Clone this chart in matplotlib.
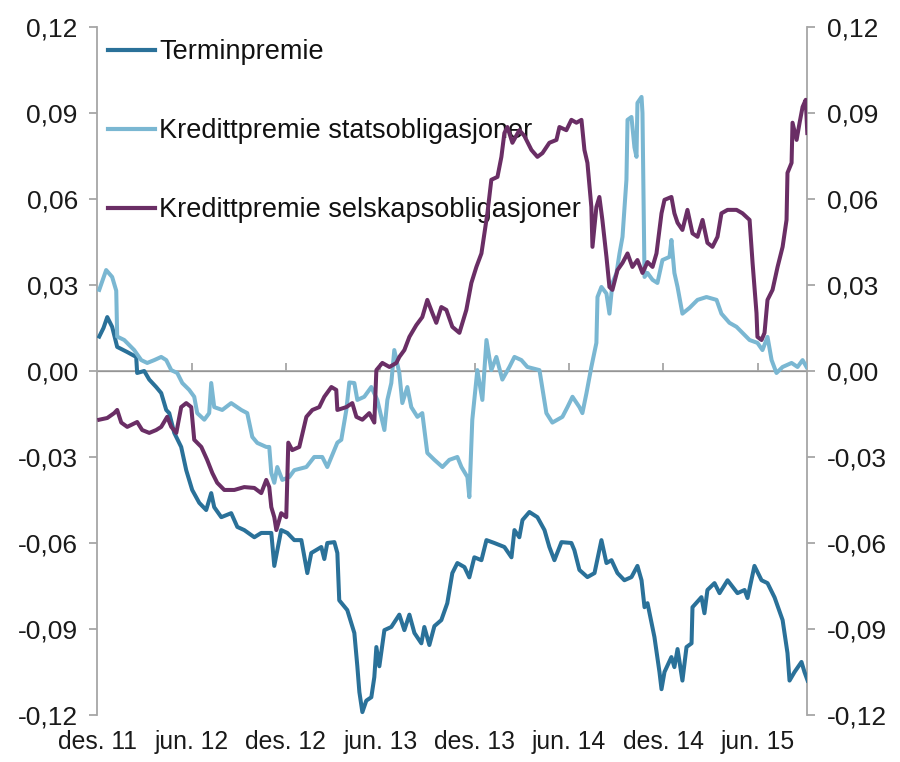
import matplotlib
matplotlib.use("Agg")
import matplotlib.pyplot as plt
from matplotlib.ticker import FixedLocator, FuncFormatter

plt.rcParams['font.family'] = ['Liberation Sans', 'DejaVu Sans']

# x = months since start of December 2011
x_ticks = [0, 6, 12, 18, 24, 30, 36, 42]
x_labels = ["des. 11", "jun. 12", "des. 12", "jun. 13", "des. 13", "jun. 14", "des. 14", "jun. 15"]
y_ticks = [-0.12, -0.09, -0.06, -0.03, 0.0, 0.03, 0.06, 0.09, 0.12]

term_x = [0.13, 0.40, 0.64, 0.95, 1.27, 1.91, 2.48, 2.54, 2.99, 3.31, 3.75, 4.07, 4.39, 4.58, 4.90,
          5.34, 5.66, 6.04, 6.49, 6.93, 7.25, 7.44, 7.89, 8.52, 8.91, 9.35, 9.99, 10.43, 11.07, 11.26,
          11.70, 12.09, 12.53, 12.98, 13.36, 13.61, 14.25, 14.44, 14.63, 15.08, 15.27, 15.39, 15.90,
          16.35, 16.54, 16.67, 16.86, 17.11, 17.43, 17.62, 17.75, 17.94, 18.26, 18.70, 19.21, 19.53,
          19.85, 20.17, 20.61, 20.80, 21.12, 21.44, 21.88, 22.26, 22.58, 22.90, 23.35, 23.66, 23.98,
          24.43, 24.75, 25.25, 25.89, 26.34, 26.53, 26.84, 27.04, 27.48, 27.99, 28.44, 28.75, 29.07,
          29.52, 30.15, 30.34, 30.66, 31.17, 31.62, 32.06, 32.38, 32.70, 33.08, 33.52, 33.97, 34.35,
          34.61, 34.80, 34.99, 35.43, 35.75, 35.88, 36.07, 36.51, 36.70, 36.90, 37.21, 37.47, 37.79,
          37.85, 38.42, 38.61, 38.80, 39.25, 39.57, 40.08, 40.71, 41.16, 41.35, 41.79, 42.24, 42.62,
          43.07, 43.58, 43.89, 44.02, 44.34, 44.78, 44.97, 45.17]
term_y = [0.0120, 0.0150, 0.0188, 0.0154, 0.0084, 0.0066, 0.0049, -0.0007, 0.0000, -0.0030, -0.0056,
          -0.0077, -0.0136, -0.0147, -0.0216, -0.0265, -0.0346, -0.0415, -0.0460, -0.0485, -0.0426,
          -0.0475, -0.0510, -0.0496, -0.0544, -0.0555, -0.0580, -0.0565, -0.0565, -0.0680, -0.0555,
          -0.0565, -0.0590, -0.0590, -0.0705, -0.0635, -0.0614, -0.0656, -0.0600, -0.0597, -0.0635,
          -0.0800, -0.0834, -0.0914, -0.1030, -0.1120, -0.1190, -0.1150, -0.1138, -0.1068, -0.0963,
          -0.1030, -0.0904, -0.0893, -0.0850, -0.0904, -0.0850, -0.0914, -0.0950, -0.0893, -0.0956,
          -0.0890, -0.0869, -0.0810, -0.0705, -0.0670, -0.0684, -0.0720, -0.0650, -0.0660, -0.0590,
          -0.0600, -0.0614, -0.0650, -0.0555, -0.0580, -0.0520, -0.0492, -0.0510, -0.0555, -0.0614,
          -0.0660, -0.0597, -0.0600, -0.0625, -0.0694, -0.0719, -0.0705, -0.0590, -0.0670, -0.0660,
          -0.0705, -0.0730, -0.0719, -0.0680, -0.0730, -0.0824, -0.0810, -0.0928, -0.1050, -0.1110,
          -0.1050, -0.0998, -0.1033, -0.0970, -0.1080, -0.0963, -0.0950, -0.0824, -0.0789, -0.0845,
          -0.0764, -0.0740, -0.0775, -0.0730, -0.0775, -0.0764, -0.0792, -0.0680, -0.0730, -0.0740,
          -0.0790, -0.0869, -0.0984, -0.1080, -0.1050, -0.1015, -0.1050, -0.1080]

stat_x = [0.13, 0.57, 0.95, 1.21, 1.27, 1.72, 2.35, 2.80, 3.18, 3.63, 4.07, 4.39, 4.71, 5.09, 5.41,
          5.85, 6.17, 6.36, 6.81, 7.12, 7.25, 7.44, 7.95, 8.52, 9.16, 9.54, 9.86, 10.18, 10.75, 10.94,
          11.07, 11.26, 11.45, 11.77, 12.21, 12.53, 13.30, 13.80, 14.31, 14.63, 15.27, 15.52, 15.84,
          16.03, 16.35, 16.54, 16.98, 17.43, 17.81, 18.26, 18.45, 18.70, 18.89, 19.21, 19.40, 19.72,
          19.97, 20.36, 20.67, 20.99, 21.44, 21.95, 22.39, 22.90, 23.16, 23.54, 23.66, 23.85, 24.17,
          24.49, 24.75, 25.06, 25.38, 25.76, 26.21, 26.53, 26.97, 27.35, 28.12, 28.56, 28.94, 29.58,
          29.90, 30.22, 30.66, 30.85, 31.11, 31.42, 31.74, 31.81, 32.06, 32.38, 32.57, 32.76, 33.02,
          33.21, 33.40, 33.65, 33.72, 33.97, 34.16, 34.29, 34.35, 34.61, 34.67, 34.80, 34.99, 35.31,
          35.62, 35.94, 36.39, 36.51, 36.70, 36.90, 37.21, 37.66, 38.17, 38.74, 39.38, 39.69, 40.20,
          40.65, 41.03, 41.48, 41.98, 42.30, 42.62, 42.88, 43.19, 43.58, 44.15, 44.53, 44.85, 45.10]
stat_y = [0.0283, 0.0352, 0.0328, 0.0280, 0.0120, 0.0108, 0.0073, 0.0038, 0.0028, 0.0038, 0.0049,
          0.0038, 0.0003, -0.0007, -0.0042, -0.0066, -0.0090, -0.0147, -0.0170, -0.0147, -0.0042,
          -0.0126, -0.0136, -0.0112, -0.0136, -0.0147, -0.0230, -0.0251, -0.0265, -0.0265, -0.0356,
          -0.0390, -0.0335, -0.0380, -0.0370, -0.0346, -0.0335, -0.0300, -0.0300, -0.0335, -0.0250,
          -0.0240, -0.0136, -0.0040, -0.0042, -0.0101, -0.0090, -0.0056, -0.0101, -0.0206, -0.0101,
          -0.0042, 0.0073, -0.0007, -0.0112, -0.0056, -0.0126, -0.0160, -0.0147, -0.0286, -0.0310,
          -0.0335, -0.0310, -0.0300, -0.0335, -0.0370, -0.0440, -0.0170, 0.0003, -0.0101, 0.0108,
          0.0003, 0.0049, -0.0030, 0.0014, 0.0049, 0.0038, 0.0014, 0.0003, -0.0147, -0.0180, -0.0160,
          -0.0126, -0.0090, -0.0126, -0.0147, -0.0077, 0.0014, 0.0098, 0.0258, 0.0293, 0.0270, 0.0200,
          0.0307, 0.0342, 0.0410, 0.0468, 0.0667, 0.0876, 0.0886, 0.0780, 0.0747, 0.0935, 0.0956,
          0.0900, 0.0328, 0.0342, 0.0318, 0.0307, 0.0387, 0.0398, 0.0457, 0.0342, 0.0293, 0.0200,
          0.0220, 0.0248, 0.0258, 0.0248, 0.0200, 0.0168, 0.0154, 0.0133, 0.0108, 0.0098, 0.0073,
          0.0119, 0.0038, -0.0007, 0.0014, 0.0028, 0.0014, 0.0038, 0.0014]

sels_x = [0.13, 0.64, 1.08, 1.27, 1.53, 1.91, 2.54, 2.86, 3.31, 3.75, 4.07, 4.45, 4.71, 5.03, 5.34,
          5.66, 5.98, 6.17, 6.62, 6.99, 7.32, 7.63, 8.08, 8.72, 9.35, 9.99, 10.43, 10.75, 10.94, 11.07,
          11.26, 11.39, 11.70, 12.02, 12.15, 12.40, 12.85, 13.30, 13.68, 14.12, 14.44, 14.89, 15.20,
          15.27, 15.84, 16.22, 16.48, 16.86, 17.30, 17.62, 17.75, 18.13, 18.58, 19.02, 19.21, 19.53,
          19.85, 20.29, 20.67, 20.99, 21.31, 21.56, 21.88, 22.20, 22.58, 23.03, 23.47, 23.79, 24.11,
          24.43, 24.62, 24.81, 25.06, 25.45, 25.70, 25.89, 26.08, 26.40, 26.84, 27.16, 27.61, 27.99,
          28.31, 28.75, 29.20, 29.39, 29.83, 30.15, 30.47, 30.79, 30.98, 31.17, 31.42, 31.49, 31.74,
          31.93, 32.12, 32.38, 32.57, 32.76, 33.08, 33.40, 33.72, 34.03, 34.35, 34.67, 34.99, 35.31,
          35.56, 35.88, 36.07, 36.51, 36.70, 36.90, 37.21, 37.53, 37.85, 38.17, 38.49, 38.80, 39.12,
          39.44, 39.69, 40.08, 40.65, 41.03, 41.48, 41.67, 41.92, 41.98, 42.24, 42.43, 42.62, 42.94,
          43.26, 43.58, 43.83, 43.89, 44.15, 44.21, 44.47, 44.66, 44.85, 45.05, 45.15]
sels_y = [-0.0170, -0.0164, -0.0147, -0.0136, -0.0180, -0.0195, -0.0178, -0.0206, -0.0216, -0.0206,
          -0.0195, -0.0160, -0.0195, -0.0216, -0.0126, -0.0112, -0.0126, -0.0240, -0.0265, -0.0310,
          -0.0356, -0.0390, -0.0415, -0.0415, -0.0405, -0.0408, -0.0426, -0.0380, -0.0405, -0.0475,
          -0.0510, -0.0555, -0.0496, -0.0510, -0.0250, -0.0276, -0.0265, -0.0160, -0.0136, -0.0126,
          -0.0090, -0.0056, -0.0066, -0.0136, -0.0126, -0.0112, -0.0160, -0.0170, -0.0147, -0.0180,
          0.0003, 0.0028, 0.0014, 0.0028, 0.0049, 0.0073, 0.0119, 0.0160, 0.0188, 0.0248, 0.0202,
          0.0168, 0.0223, 0.0213, 0.0154, 0.0133, 0.0213, 0.0307, 0.0363, 0.0410, 0.0480, 0.0550,
          0.0667, 0.0677, 0.0747, 0.0830, 0.0851, 0.0796, 0.0840, 0.0820, 0.0771, 0.0747, 0.0760,
          0.0796, 0.0806, 0.0851, 0.0840, 0.0876, 0.0866, 0.0876, 0.0771, 0.0726, 0.0572, 0.0433,
          0.0572, 0.0607, 0.0527, 0.0398, 0.0293, 0.0283, 0.0352, 0.0377, 0.0410, 0.0363, 0.0387,
          0.0342, 0.0380, 0.0363, 0.0410, 0.0550, 0.0597, 0.0607, 0.0550, 0.0517, 0.0492, 0.0562,
          0.0480, 0.0468, 0.0527, 0.0447, 0.0433, 0.0468, 0.0550, 0.0562, 0.0562, 0.0550, 0.0527,
          0.0377, 0.0202, 0.0119, 0.0108, 0.0133, 0.0248, 0.0283, 0.0363, 0.0433, 0.0527, 0.0691,
          0.0726, 0.0866, 0.0806, 0.0866, 0.0921, 0.0946, 0.0830]

names = ["Terminpremie", "Kredittpremie statsobligasjoner", "Kredittpremie selskapsobligasjoner"]
colors = ["#2a7199", "#7ab7d2", "#6a2e65"]

fig = plt.figure(figsize=(9.0, 7.62), dpi=100)
ax = fig.add_axes([0.108, 0.0617, 0.789, 0.9029])

gray = "#a6a6a6"
ax.axhline(0, color=gray, lw=1.3, zorder=1)

lw = 2.9
ax.plot(term_x, term_y, color=colors[0], lw=lw, label=names[0], solid_joinstyle='round', zorder=6)
ax.plot(stat_x, stat_y, color=colors[1], lw=lw, label=names[1], solid_joinstyle='round', zorder=6)
ax.plot(sels_x, sels_y, color=colors[2], lw=lw, label=names[2], solid_joinstyle='round', zorder=7)

ax.set_xlim(0, 45.15)
ax.set_ylim(-0.12, 0.12)

fmt = FuncFormatter(lambda v, p: f"{v:.2f}".replace(".", ","))
for s in ["top", "bottom"]:
    ax.spines[s].set_visible(False)
for s in ["left", "right"]:
    ax.spines[s].set_color(gray)
    ax.spines[s].set_linewidth(1.3)

ax.yaxis.set_major_locator(FixedLocator(y_ticks))
ax.yaxis.set_major_formatter(fmt)
ax.tick_params(axis='y', which='both', left=True, right=True, labelleft=True, labelright=True,
               direction='out', length=6, width=1.3, color=gray, labelsize=19, labelcolor="#1a1a1a",
               pad=8)

ax.set_xticks(x_ticks)
ax.set_xticklabels(x_labels)
ax.tick_params(axis='x', length=0, labelsize=17.8, labelcolor="#1a1a1a", pad=11)

sec = ax.secondary_xaxis(0.5)
sec.set_xticks(x_ticks[1:])
sec.set_xticklabels([])
sec.spines['bottom'].set_visible(False)
sec.tick_params(axis='x', direction='out', length=6, width=1.3, color=gray)

leg = ax.legend(loc='upper left', bbox_to_anchor=(0.015, 0.982), frameon=False, fontsize=19.5,
                handlelength=1.75, handletextpad=0.15, labelspacing=1.95, borderaxespad=0,
                borderpad=0)
leg.set_zorder(3)
for t in leg.get_texts():
    t.set_color("#111111")
for h in leg.get_lines():
    h.set_linewidth(3.0)

fig.savefig("out.png", dpi=100)
